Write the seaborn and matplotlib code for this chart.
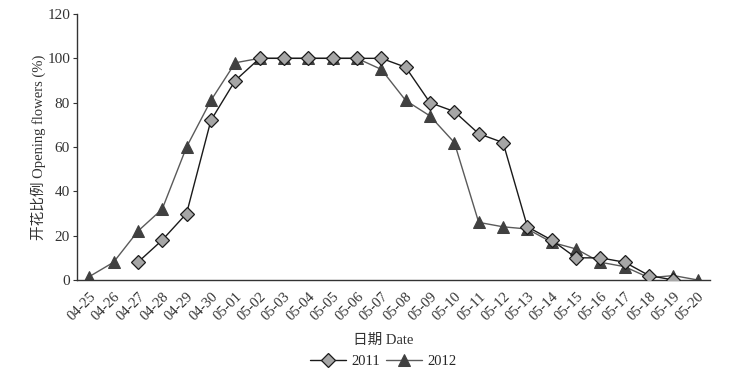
import numpy as np
import pandas as pd
import matplotlib
matplotlib.use("Agg")
import matplotlib.pyplot as plt
import seaborn as sns

dates = ["04-25", "04-26", "04-27", "04-28", "04-29", "04-30", "05-01", "05-02",
         "05-03", "05-04", "05-05", "05-06", "05-07", "05-08", "05-09", "05-10",
         "05-11", "05-12", "05-13", "05-14", "05-15", "05-16", "05-17", "05-18",
         "05-19", "05-20"]

# 2011 starts at 04-27 and ends at 05-19
dates_2011 = dates[2:25]
open_2011 = [8, 18, 30, 72, 90, 100, 100, 100, 100, 100, 100, 96, 80, 76,
             66, 62, 24, 18, 10, 10, 8, 2, 0]

dates_2012 = dates
open_2012 = [1.5, 8, 22, 32, 60, 81, 98, 100, 100, 100, 100, 100, 95, 81, 74, 62,
             26, 24, 23, 17, 14, 8, 6, 1, 2, 0]

sns.set_theme(style="white")
plt.rcParams["font.family"] = ["Liberation Serif", "Noto Sans CJK SC", "DejaVu Sans"]

df11 = pd.DataFrame({"x": [dates.index(d) for d in dates_2011], "y": open_2011})
df12 = pd.DataFrame({"x": [dates.index(d) for d in dates_2012], "y": open_2012})

fig = plt.figure(figsize=(7.43, 3.77), dpi=100)
ax = fig.add_axes([77 / 743, 1 - 280 / 377, 633 / 743, 266 / 377])

sns.lineplot(data=df11, x="x", y="y", ax=ax, color="#1a1a1a", lw=1.0,
             marker="D", markersize=7, markerfacecolor="#a6a6a6",
             markeredgecolor="#1a1a1a", markeredgewidth=0.9, label="2011", zorder=3)
sns.lineplot(data=df12, x="x", y="y", ax=ax, color="#5a5a5a", lw=1.0,
             marker="^", markersize=9, markerfacecolor="#404040",
             markeredgecolor="#404040", label="2012", zorder=2)

ax.set_xlim(-0.5, len(dates) - 0.5)
ax.set_ylim(0, 120)
ax.set_yticks(range(0, 121, 20))
ax.set_xticks(range(len(dates)))
ax.set_xticklabels(dates, rotation=45, ha="right", rotation_mode="anchor", fontsize=10.5)
ax.set_xticks(np.arange(-0.5, len(dates), 1), minor=True)
ax.tick_params(axis="x", which="major", length=0, pad=7)
ax.tick_params(axis="x", which="minor", direction="in", length=4, width=0.8, color="#333333")
ax.tick_params(axis="y", direction="out", length=3, width=0.8, color="#333333",
               labelsize=11, labelcolor="#333333", pad=2, left=True)
for t in ax.get_xticklabels():
    t.set_color("#333333")

for s in ["top", "right"]:
    ax.spines[s].set_visible(False)
for s in ["left", "bottom"]:
    ax.spines[s].set_color("#333333")
    ax.spines[s].set_linewidth(1.0)

ax.set_xlabel("日期 Date", fontsize=10.5, color="#333333", va="center")
ax.xaxis.set_label_coords(0.5 + (383 - 393) / 633, (280 - 340) / 266)
ax.set_ylabel("开花比例 Opening flowers (%)", fontsize=10.5, color="#333333", va="center")
ax.yaxis.set_label_coords((38 - 77) / 633, 0.5 - (147 - 147) / 266)

ax.legend(loc="center", bbox_to_anchor=(383 / 743, 1 - 361 / 377),
          bbox_transform=fig.transFigure, ncol=2, frameon=False, fontsize=10.5,
          handlelength=2.5, columnspacing=0.4, handletextpad=0.35)

fig.savefig("out.png", dpi=100)
